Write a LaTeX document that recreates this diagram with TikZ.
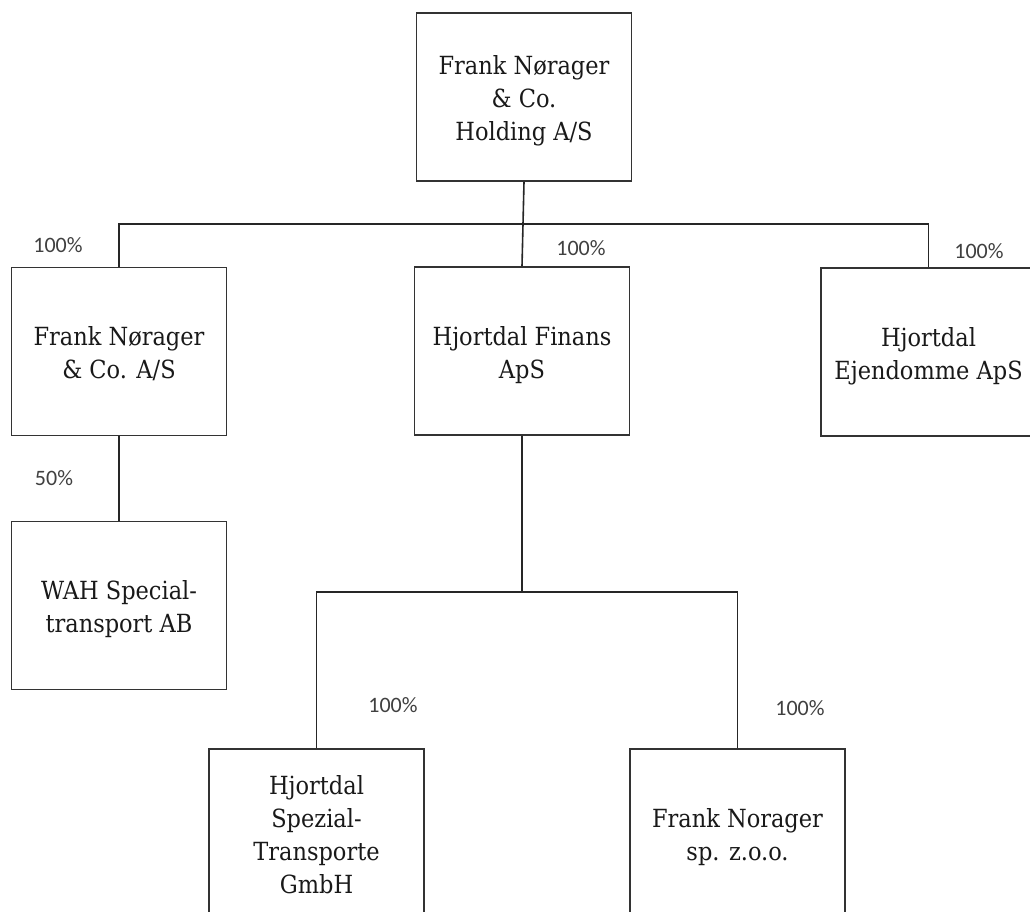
\documentclass[tikz,border=0pt]{standalone}
\usepackage{fontspec}
\newfontfamily\boxfont{DejaVu Serif Condensed}
\newfontfamily\pctfont{Carlito}
\newcommand\topst{\rule{0pt}{27pt}}
\newcommand\botst{\rule[-6pt]{0pt}{6pt}}
\begin{document}
\begin{tikzpicture}[x=1pt,y=-1pt,
  orgbox/.style={draw=black!80,line width=1.6pt,minimum width=215pt,minimum height=168pt,
    align=center,inner sep=0pt,font=\boxfont\fontsize{25}{33}\selectfont,text=black!90},
  link/.style={draw=black!85,line width=1.6pt},
  pct/.style={font=\pctfont\fontsize{22}{24}\selectfont,text=black!75,inner sep=0pt}]
\useasboundingbox (0,0) rectangle (1030,912);
\clip (0,0) rectangle (1030,912);
\fill[white] (0,0) rectangle (1030,912);
% boxes
\node[orgbox] (hold) at (524,97) {\topst Frank Nørager\\ \& Co.\\ Holding A/S\botst};
\node[orgbox] (fna) at (119,351.5) {\topst Frank Nørager\\ \& Co. A/S\botst};
\node[orgbox] (hfin) at (522,351) {\topst Hjortdal Finans\\ ApS\botst};
\node[orgbox] (hejd) at (928.5,352) {\topst Hjortdal\\ Ejendomme ApS\botst};
\node[orgbox] (wah) at (119,605.5) {\topst WAH Special-\\ transport AB\botst};
\node[orgbox] (hsp) at (316.5,833) {\topst Hjortdal\\ Spezial-\\ Transporte\\ GmbH\botst};
\node[orgbox] (fns) at (737.5,833) {\topst Frank Norager\\ sp. z.o.o.\botst};
% connectors
\coordinate (bus) at (522,224);
\coordinate (bus2) at (522,592);
\draw[link] (hold.south) -- (hfin.north);
\draw[link] (fna.north) |- (bus) -| (hejd.north);
\draw[link] (fna.south) -- (wah.north);
\draw[link] (hfin.south) -- (bus2);
\draw[link] (hsp.north) |- (bus2) -| (fns.north);
% labels
\node[pct] (p1) at (58,245) {100\%};
\node[pct] (p2) at (581,248) {100\%};
\node[pct] (p3) at (979,251) {100\%};
\node[pct] (p4) at (54,478) {50\%};
\node[pct] (p5) at (393,705) {100\%};
\node[pct] (p6) at (800,708) {100\%};
\end{tikzpicture}
\end{document}
